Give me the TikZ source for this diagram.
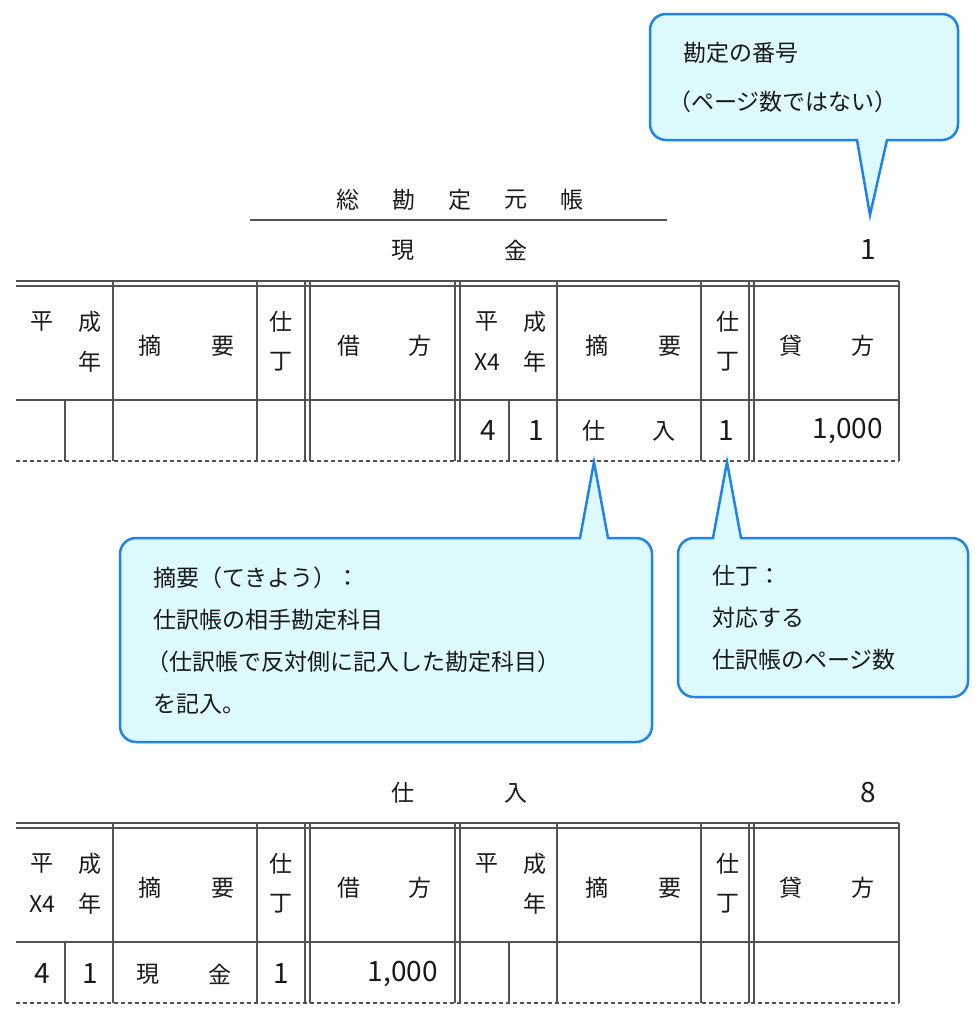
\documentclass[tikz,border=0pt]{standalone}
\usepackage{fontspec}
\setmainfont{Noto Sans CJK JP}
\definecolor{cb}{HTML}{1E84EC}
\definecolor{cf}{HTML}{DDFAFF}
\begin{document}
\begin{tikzpicture}[x=1pt,y=-1pt,
  ln/.style={draw=black!68,line width=1.5pt},
  dl/.style={draw=black!68,line width=1.3pt,dash pattern=on 4pt off 3pt},
  callout/.style={draw=cb,fill=cf,line width=2.5pt},
  t/.style={font=\fontsize{23}{27}\selectfont,inner sep=0pt,text=black!90},
  n/.style={font=\fontsize{28}{32}\selectfont,inner sep=0pt,text=black!90},
  tl/.style={t,anchor=west}]
\useasboundingbox (0,0) rectangle (980,1026);
\newcommand\ledgergrid{%
  \draw[ln] (16,0) -- (899,0) (16,5) -- (899,5) (16,119) -- (899,119);
  \draw[dl] (16,180) -- (899,180);
  \foreach \xx in {113,257,305,310,455,460,557,701,749,754,899}{\draw[ln] (\xx,0) -- (\xx,180);}
  \foreach \xx in {65,509}{\draw[ln] (\xx,119) -- (\xx,180);}
  \foreach \o in {0,447}{
    \node[t] at (150+\o,65) {摘}; \node[t] at (223+\o,65) {要};
    \node[t] at (281+\o,41) {仕}; \node[t] at (281+\o,81) {丁};}
  \node[t] at (349,65) {借}; \node[t] at (420,65) {方};
  \node[t] at (791,65) {貸}; \node[t] at (863,65) {方};
}
% title
\node[t] at (348,200) {総}; \node[t] at (404,200) {勘}; \node[t] at (460,200) {定};
\node[t] at (516,200) {元}; \node[t] at (572,200) {帳};
\draw[ln,line width=1.2pt] (250,220) -- (667,220);
\node[t] (g1) at (403,250) {現}; \node[t] (g2) at (516,250) {金};
\node[n] (p1) at (868,250) {1};
% top table
\begin{scope}[yshift=-281pt]
\ledgergrid
\node[t] at (42,41) {平}; \node[t] at (90,41) {成}; \node[t] at (90,81) {年};
\node[t] at (487,41) {平}; \node[t] at (535,41) {成};
\node[t] at (487,81) {X4}; \node[t] at (535,81) {年};
\node[n] at (488,150) {4}; \node[n] at (536,150) {1};
\node[t] (sz) at (594,150) {仕}; \node[t] at (664,150) {入};
\node[n] (sc) at (726,150) {1};
\node[n,anchor=east] at (883,150) {1,000};
\end{scope}
% bottom
\node[t] (h1) at (403,793) {仕}; \node[t] (h2) at (516,793) {入};
\node[n] (p8) at (868,793) {8};
\begin{scope}[yshift=-823pt]
\ledgergrid
\node[t] at (42,41) {平}; \node[t] at (90,41) {成};
\node[t] at (42,81) {X4}; \node[t] at (90,81) {年};
\node[t] at (487,41) {平}; \node[t] at (535,41) {成}; \node[t] at (535,81) {年};
\node[n] at (42,151) {4}; \node[n] at (90,151) {1};
\node[t] at (148,151) {現}; \node[t] at (220,151) {金};
\node[n] at (281,151) {1};
\node[n,anchor=east] at (438,151) {1,000};
\end{scope}
% callouts
\coordinate (tip1) at (870,215);
\coordinate (tip2) at (594,462);
\coordinate (tip3) at (727,462);
\path[callout] (857,140) -- (tip1) -- (887,140) [rounded corners=16] -- (958,140) -- (958,14) -- (650,14) -- (650,140) [sharp corners] -- cycle;
\node[tl] (c1a) at (683,53) {勘定の番号};
\node[tl] (c1b) at (668,102) {（ページ数ではない）};
\path[callout] (608,538) -- (tip2) -- (580,538) [rounded corners=16] -- (120,538) -- (120,742) -- (652,742) -- (652,538) [sharp corners] -- cycle;
\node[tl] (c2a) at (153,578) {摘要（てきよう）：};
\node[tl] (c2b) at (153,620) {仕訳帳の相手勘定科目};
\node[tl] (c2c) at (146,662) {（仕訳帳で反対側に記入した勘定科目）};
\node[tl] (c2d) at (153,704) {を記入。};
\path[callout] (741,538) -- (tip3) -- (713,538) [rounded corners=16] -- (678,538) -- (678,697) -- (968,697) -- (968,538) [sharp corners] -- cycle;
\node[tl] (c3a) at (712,576) {仕丁：};
\node[tl] (c3b) at (712,618) {対応する};
\node[tl] (c3c) at (712,660) {仕訳帳のページ数};
\end{tikzpicture}
\end{document}
